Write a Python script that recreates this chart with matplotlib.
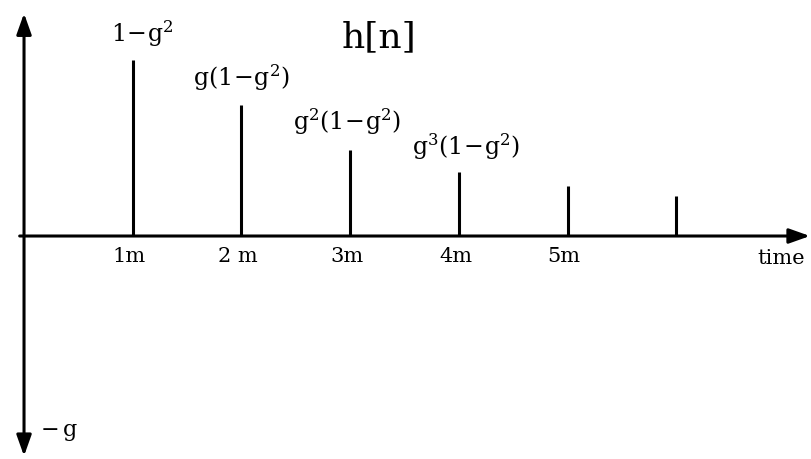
import matplotlib
matplotlib.use("Agg")
import matplotlib.pyplot as plt

# impulse response h[n]: sample times (in units of m) and heights (1-g^2 = 1)
times = [1, 2, 3, 4, 5, 6]
heights = [1.0, 0.745, 0.49, 0.365, 0.285, 0.225]
tick_labels = ["1m", "2 m", "3m", "4m", "5m"]
stem_labels = [r"$\mathrm{1\!-\!g^2}$", r"$\mathrm{g(1\!-\!g^2)}$",
               r"$\mathrm{g^2(1\!-\!g^2)}$", r"$\mathrm{g^3(1\!-\!g^2)}$"]
neg_label = r"$\mathrm{-\,g}$"

plt.rcParams["font.family"] = "DejaVu Serif"
plt.rcParams["mathtext.fontset"] = "dejavuserif"

fig = plt.figure(figsize=(8.12, 4.59), dpi=100)
ax = fig.add_axes([0, 0, 1, 1])
ax.set_xlim(-0.221, 7.249)
ax.set_ylim(-1.267, 1.341)
ax.axis("off")

# axes with arrows
arr = dict(arrowstyle="-|>,head_length=0.9,head_width=0.32", color="black",
           lw=2.2, mutation_scale=14, shrinkA=0, shrinkB=0)
ax.annotate("", xy=(7.23, 0), xytext=(-0.04, 0), arrowprops=arr)
ax.annotate("", xy=(0, 1.265), xytext=(0, 0), arrowprops=arr)
ax.annotate("", xy=(0, -1.25), xytext=(0, 0), arrowprops=arr)

# stems
ax.vlines(times, 0, heights, color="black", lw=2.2)

# stem labels
label_pos = [(1.085, 1.06), (2.0, 0.81), (2.97, 0.56), (4.07, 0.42)]
for (x, y), s in zip(label_pos, stem_labels):
    ax.text(x, y, s, ha="center", va="bottom", fontsize=17)

# tick labels
for t, s in zip(times, tick_labels):
    ax.text(t - 0.03, -0.115, s, ha="center", va="center", fontsize=15)
ax.text(6.745, -0.125, "time", ha="left", va="center", fontsize=15)

ax.text(3.27, 1.13, "h[n]", ha="center", va="center", fontsize=26)
ax.text(0.15, -1.115, neg_label, ha="left", va="center", fontsize=16)

fig.savefig("out.png", dpi=100, facecolor="white")
